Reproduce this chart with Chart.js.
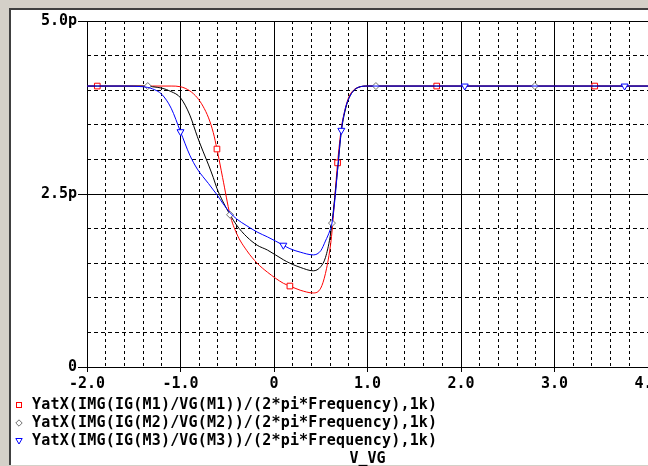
<!DOCTYPE html>
<html>
<head>
<meta charset="utf-8">
<script src="https://cdn.jsdelivr.net/npm/chart.js@4"></script>
<style>
  body { margin: 0; background: #fff; }
  #bg { position: absolute; left: 0; top: 0; width: 648px; height: 466px; background: #d4d0c8; overflow: hidden; }
  #panel { position: absolute; left: 9px; top: 8px; width: 637px; height: 455px; background: #fff;
           border-left: 2px solid #404040; border-top: 2px solid #404040; }
  #chart { position: absolute; left: 0; top: 0; }
  .txt { position: absolute; font: bold 15px "DejaVu Sans Mono", monospace; color: #000; white-space: pre; }
  #legend { left: 15px; top: 396px; line-height: 17.5px; letter-spacing: 0.18px; }
  #legend .mk { display: inline-block; width: 17px; vertical-align: middle; }
  #xtitle { left: 87px; width: 561px; top: 449px; text-align: center; }
</style>
</head>
<body>
<div id="bg">
  <div id="panel"></div>
  <canvas id="chart" width="648" height="466"></canvas>
  <div id="legend" class="txt"></div>
  <div id="xtitle" class="txt"></div>
</div>
<script>
// sweep values of V_VG
const vgValues = [-2.0, -1.89, -1.6, -1.4, -1.35, -1.3, -1.2, -1.1, -1.0, -0.9, -0.82, -0.76, -0.7, -0.65,
  -0.61, -0.55, -0.47, -0.4, -0.29, -0.18, -0.07, 0.1, 0.17, 0.28, 0.42, 0.5, 0.55, 0.6, 0.62, 0.65,
  0.68, 0.72, 0.76, 0.8, 0.85, 0.9, 1.0, 1.09, 1.74, 2.04, 2.79, 3.43, 3.75, 4.0];

// capacitance in pF
const m1Values = [4.06, 4.06, 4.06, 4.06, 4.06, 4.06, 4.06, 4.06, 4.05, 3.99, 3.89, 3.77, 3.6, 3.39,
  3.15, 2.74, 2.2, 1.93, 1.68, 1.5, 1.37, 1.21, 1.17, 1.11, 1.07, 1.14, 1.35, 1.72, 1.95, 2.45,
  2.95, 3.45, 3.72, 3.9, 4.0, 4.04, 4.06, 4.06, 4.06, 4.06, 4.06, 4.06, 4.06, 4.06];
const m2Values = [4.06, 4.06, 4.06, 4.06, 4.06, 4.05, 4.03, 3.98, 3.89, 3.64, 3.33, 3.12, 2.92, 2.74,
  2.58, 2.4, 2.2, 2.05, 1.88, 1.76, 1.69, 1.55, 1.5, 1.44, 1.39, 1.45, 1.58, 1.88, 2.08, 2.45,
  2.85, 3.4, 3.7, 3.88, 3.99, 4.04, 4.06, 4.06, 4.06, 4.06, 4.06, 4.06, 4.06, 4.06];
const m3Values = [4.06, 4.06, 4.06, 4.05, 4.04, 4.02, 3.94, 3.74, 3.4, 3.06, 2.86, 2.75, 2.65, 2.56,
  2.49, 2.37, 2.23, 2.14, 2.04, 1.95, 1.88, 1.76, 1.71, 1.66, 1.62, 1.68, 1.82, 1.98, 2.08, 2.4,
  2.85, 3.42, 3.72, 3.88, 3.99, 4.04, 4.06, 4.06, 4.06, 4.06, 4.06, 4.06, 4.06, 4.06];

// where the trace symbols sit
const m1Marks = [-1.89, -0.61, 0.17, 0.68, 1.74, 3.43];
const m2Marks = [-1.35, -0.47, 0.62, 1.09, 2.79];
const m3Marks = [-1.0, 0.1, 0.72, 2.04, 3.75];

const seriesNames = [
  "YatX(IMG(IG(M1)/VG(M1))/(2*pi*Frequency),1k)",
  "YatX(IMG(IG(M2)/VG(M2))/(2*pi*Frequency),1k)",
  "YatX(IMG(IG(M3)/VG(M3))/(2*pi*Frequency),1k)"
];
const xTitle = "V_VG";
const xTickValues = [-2, -1, 0, 1, 2, 3, 4];
const xTickLabels = ["-2.0", "-1.0", "0", "1.0", "2.0", "3.0", "4.0"];
const yTickValues = [0, 2.5, 5];
const yTickLabels = ["0", "2.5p", "5.0p"];

const FONT = { family: "DejaVu Sans Mono", weight: "bold", size: 15 };

function pts(ys) { return vgValues.map((x, i) => ({ x: x, y: ys[i] })); }
function near(v, list) { return list.findIndex(t => Math.abs(t - v) < 1e-6); }
function markRadius(marks, r) {
  return ctx => near(vgValues[ctx.dataIndex], marks) >= 0 ? r : 0;
}
function isMajorX(ctx) { return ctx.tick && near(ctx.tick.value, xTickValues) >= 0; }
function isMajorY(ctx) { return ctx.tick && near(ctx.tick.value, yTickValues) >= 0; }

function makeSeries(name, ys, color, marks, style, r, rot, markColor, order) {
  return {
    label: name,
    data: pts(ys),
    showLine: true,
    borderColor: color,
    borderWidth: 1,
    cubicInterpolationMode: "monotone",
    pointStyle: style,
    pointRotation: rot,
    pointRadius: markRadius(marks, r),
    pointHoverRadius: markRadius(marks, r),
    pointBorderWidth: 1,
    pointBorderColor: markColor,
    pointBackgroundColor: "#fff",
    order: order
  };
}

new Chart(document.getElementById("chart"), {
  type: "scatter",
  data: {
    datasets: [
      makeSeries(seriesNames[0], m1Values, "#ff0000", m1Marks, "rect", 4, 0, "#ff0000", 3),
      makeSeries(seriesNames[1], m2Values, "#000000", m2Marks, "rectRot", 3.5, 0, "#707070", 2),
      makeSeries(seriesNames[2], m3Values, "#0000ff", m3Marks, "triangle", 4, 180, "#0000ff", 1)
    ]
  },
  options: {
    responsive: false,
    animation: false,
    events: [],
    layout: { padding: { top: 21, right: 0, bottom: 0, left: 0 } },
    plugins: { legend: { display: false }, tooltip: { enabled: false } },
    scales: {
      x: {
        type: "linear",
        min: -2, max: 4,
        afterFit: s => { s.paddingLeft = 0; s.paddingRight = 0; s.height = 99; },
        ticks: {
          stepSize: 0.2, autoSkip: false, maxRotation: 0, padding: 3,
          color: "#000", font: FONT,
          callback: v => { const k = near(v, xTickValues); return k >= 0 ? xTickLabels[k] : ""; }
        },
        grid: {
          color: "#000", lineWidth: 1, tickLength: 5,
          tickColor: ctx => isMajorX(ctx) ? "#000" : "rgba(0,0,0,0)"
        },
        border: { display: false, dash: ctx => isMajorX(ctx) ? [] : [3, 3] }
      },
      y: {
        min: 0, max: 5,
        afterFit: s => { s.width = 87; },
        ticks: {
          stepSize: 0.5, autoSkip: false, padding: 1,
          color: "#000", font: FONT,
          callback: v => { const k = near(v, yTickValues); return k >= 0 ? yTickLabels[k] : ""; }
        },
        grid: {
          color: "#000", lineWidth: 1, tickLength: 9,
          tickColor: ctx => isMajorY(ctx) ? "#000" : "rgba(0,0,0,0)"
        },
        border: { display: false, dash: ctx => isMajorY(ctx) ? [] : [4, 3] }
      }
    }
  }
});

// legend lines below the plot, PSpice style
const markSvg = [
  '<svg width="8" height="8"><rect x="1.5" y="1.5" width="5" height="5" fill="#fff" stroke="#ff0000"/></svg>',
  '<svg width="8" height="8"><path d="M4 0.8 L7.2 4 L4 7.2 L0.8 4 Z" fill="#fff" stroke="#707070"/></svg>',
  '<svg width="8" height="8"><path d="M0.8 1.5 L7.2 1.5 L4 7 Z" fill="#fff" stroke="#0000ff"/></svg>'
];
document.getElementById("legend").innerHTML = seriesNames
  .map((n, i) => '<div><span class="mk">' + markSvg[i] + '</span>' + n + '</div>').join("");
document.getElementById("xtitle").textContent = xTitle;
</script>
</body>
</html>
